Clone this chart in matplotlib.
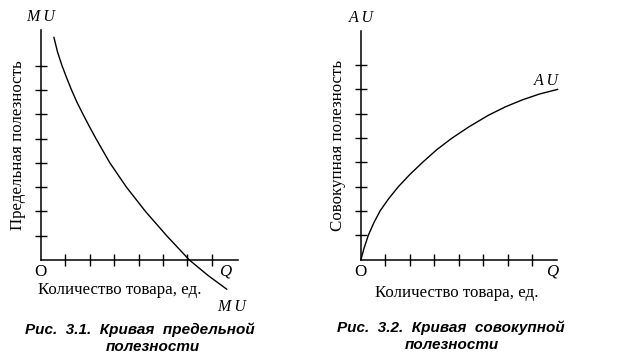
"""
Marginal and total utility curves (two textbook panels, Рис. 3.1 / 3.2).
"""

import matplotlib

matplotlib.use("Agg")
import matplotlib.pyplot as plt

W, H = 623, 361

# ---------------------------------------------------------------------------
# Data (in tick units)
# ---------------------------------------------------------------------------

mu_q = [0.53, 0.68, 0.86, 1.05, 1.25, 1.47, 1.72, 1.98, 2.25, 2.82, 3.5,
        4.28, 5.15, 6.08, 6.85, 7.61]
mu_val = [9.16, 8.55, 8.0, 7.5, 7.0, 6.5, 6.0, 5.5, 5.0, 4.0, 3.0,
          2.0, 1.0, 0.0, -0.64, -1.2]

au_q = [0.0, 0.12, 0.3, 0.52, 0.78, 1.13, 1.53, 2.0, 2.52, 3.1, 3.7,
        4.4, 5.2, 5.9, 6.6, 7.3, 8.04]
au_val = [0.0, 0.45, 1.0, 1.5, 2.0, 2.5, 3.0, 3.5, 4.0, 4.52, 4.98,
          5.45, 5.93, 6.28, 6.57, 6.81, 7.0]

x_ticks = [1, 2, 3, 4, 5, 6, 7]
y_ticks = [1, 2, 3, 4, 5, 6, 7, 8]

SERIF = ["Liberation Serif", "DejaVu Serif"]
SANS = ["Liberation Sans", "DejaVu Sans"]


def fx(px):
    return px / W


def fy(py):
    return 1 - py / H


def make_axes(fig, ox, oy, ux, uy, x_end, y_end):
    """Axes whose data origin sits at pixel (ox, oy), ux/uy pixels per unit."""
    xlim = (-1, 9)
    ylim = (-2, 10)
    left = ox + xlim[0] * ux
    right = ox + xlim[1] * ux
    top = oy - ylim[1] * uy
    bottom = oy - ylim[0] * uy
    ax = fig.add_axes([fx(left), fy(bottom), (right - left) / W, (bottom - top) / H])
    ax.set_xlim(*xlim)
    ax.set_ylim(*ylim)
    ax.patch.set_visible(False)
    for side in ("top", "right"):
        ax.spines[side].set_visible(False)
    ax.spines["left"].set_position(("data", 0))
    ax.spines["bottom"].set_position(("data", 0))
    ax.spines["left"].set_bounds(0, y_end)
    ax.spines["bottom"].set_bounds(0, x_end)
    for side in ("left", "bottom"):
        ax.spines[side].set_linewidth(1.1)
    ax.set_xticks(x_ticks)
    ax.set_yticks(y_ticks)
    ax.tick_params(direction="inout", length=8.6, width=1.0, color="black",
                   labelbottom=False, labelleft=False)
    return ax


def main() -> None:
    fig = plt.figure(figsize=(W / 100, H / 100), dpi=100)
    fig.patch.set_facecolor("white")

    # --- Рис. 3.1: marginal utility -----------------------------------------
    ax1 = make_axes(fig, 41, 260, 24.4, 24.3, 8.07, 9.47)
    ax1.plot(mu_q, mu_val, color="black", lw=1.0)

    # --- Рис. 3.2: total utility --------------------------------------------
    ax2 = make_axes(fig, 361, 259.5, 24.45, 24.3, 8.02, 9.4)
    ax2.plot(au_q, au_val, color="black", lw=1.0)

    lab = dict(family=SERIF, fontsize=11.5, style="italic", ha="center", va="center")
    txt = dict(family=SERIF, fontsize=12.2, ha="center", va="center")
    cap = dict(family=SANS, fontsize=11, style="italic", weight="bold",
               ha="center", va="center")

    # left panel labels
    fig.text(fx(41), fy(17), "M U", **lab)
    fig.text(fx(232), fy(307), "M U", **lab)
    fig.text(fx(40), fy(272), "O", **txt)
    fig.text(fx(225), fy(271), "Q", **{**txt, "style": "italic"})
    fig.text(fx(120), fy(290), "Количество товара, ед.", **txt)
    fig.text(fx(18), fy(145), "Предельная полезность", rotation=90, **txt)
    fig.text(fx(140), fy(330), "Рис.  3.1.  Кривая  предельной", **cap)
    fig.text(fx(153), fy(347), "полезности", **cap)

    # right panel labels
    fig.text(fx(361), fy(18), "A U", **lab)
    fig.text(fx(546), fy(81), "A U", **lab)
    fig.text(fx(360), fy(272), "O", **txt)
    fig.text(fx(552), fy(271), "Q", **{**txt, "style": "italic"})
    fig.text(fx(457), fy(293), "Количество товара, ед.", **txt)
    fig.text(fx(338), fy(145), "Совокупная полезность", rotation=90, **txt)
    fig.text(fx(451), fy(328), "Рис.  3.2.  Кривая  совокупной", **cap)
    fig.text(fx(452), fy(345), "полезности", **cap)

    fig.savefig("out.png", dpi=100)
    plt.close(fig)


if __name__ == "__main__":
    main()
